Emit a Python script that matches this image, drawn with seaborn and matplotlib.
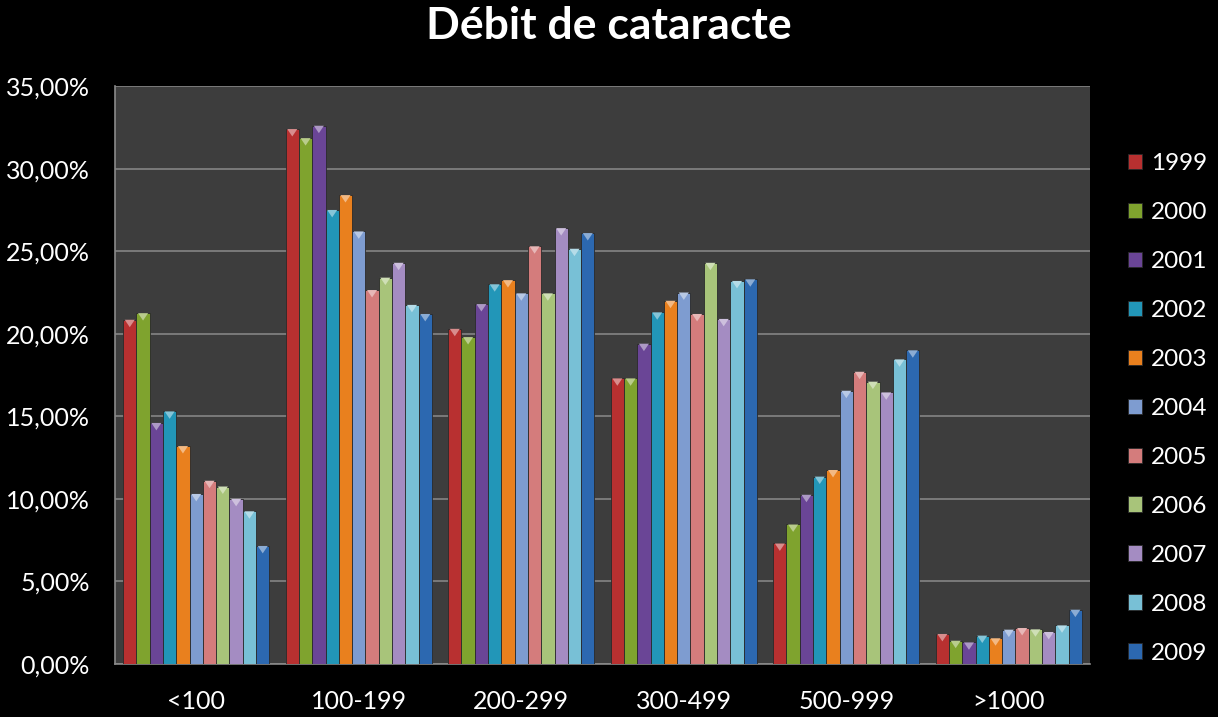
import matplotlib
matplotlib.use("Agg")
import matplotlib.pyplot as plt
import matplotlib.colors as mcolors
from matplotlib.patches import Polygon
import seaborn as sns
import pandas as pd
from matplotlib.ticker import FuncFormatter, MultipleLocator

categories = ["<100", "100-199", "200-299", "300-499", "500-999", ">1000"]
years = ["1999", "2000", "2001", "2002", "2003", "2004", "2005", "2006", "2007", "2008", "2009"]

v1999 = [20.85, 32.4, 20.3, 17.3, 7.3, 1.82]
v2000 = [21.25, 31.85, 19.8, 17.3, 8.45, 1.41]
v2001 = [14.6, 32.6, 21.8, 19.4, 10.25, 1.31]
v2002 = [15.3, 27.5, 23.0, 21.3, 11.35, 1.72]
v2003 = [13.2, 28.4, 23.25, 22.0, 11.75, 1.56]
v2004 = [10.3, 26.2, 22.45, 22.5, 16.55, 2.08]
v2005 = [11.1, 22.65, 25.3, 21.2, 17.7, 2.18]
v2006 = [10.75, 23.4, 22.45, 24.3, 17.1, 2.1]
v2007 = [10.0, 24.3, 26.4, 20.9, 16.45, 1.94]
v2008 = [9.25, 21.75, 25.15, 23.2, 18.45, 2.34]
v2009 = [7.15, 21.2, 26.1, 23.3, 19.0, 3.29]

series = [v1999, v2000, v2001, v2002, v2003, v2004, v2005, v2006, v2007, v2008, v2009]

colors = ["#B83030", "#7FA32E", "#6A4596", "#2296B8", "#E9801E", "#7E9CD0",
          "#D47C7C", "#A8C47A", "#A48CC2", "#78C0D6", "#2C68B0"]

rows = []
for y, vals in zip(years, series):
    for c, v in zip(categories, vals):
        rows.append({"Catégorie": c, "Année": y, "Valeur": v})
df = pd.DataFrame(rows)

sns.set_theme(style="dark")
plt.rcParams["font.family"] = ["Lato", "DejaVu Sans"]

fig = plt.figure(figsize=(12.18, 7.17), dpi=100, facecolor="black")
ax = fig.add_axes([0.0944, 0.0739, 0.8006, 0.806])
ax.set_facecolor("#3d3d3d")

sns.barplot(data=df, x="Catégorie", y="Valeur", hue="Année", order=categories,
            hue_order=years, palette=colors, saturation=1, width=0.9,
            edgecolor="#2a2a2a", linewidth=0.6, ax=ax, zorder=3)

# bevel highlight at top of each bar (derived from the drawn bars)
for p in list(ax.patches):
    x0, w, h = p.get_x(), p.get_width(), p.get_height()
    if h <= 0:
        continue
    fc = mcolors.to_rgb(p.get_facecolor())
    light = tuple(c + (1 - c) * 0.45 for c in fc)
    tri = Polygon([(x0 + 0.12 * w, h), (x0 + 0.88 * w, h), (x0 + 0.5 * w, h - 0.45)],
                  closed=True, facecolor=light, edgecolor="none", zorder=4)
    ax.add_patch(tri)

ax.set_ylim(0, 35)
ax.yaxis.set_major_locator(MultipleLocator(5))
ax.yaxis.set_major_formatter(FuncFormatter(lambda v, p: f"{v:.2f}%".replace(".", ",")))
ax.grid(axis="y", color="#8a8a8a", linewidth=1.1, zorder=0)
ax.grid(axis="x", visible=False)
ax.set_axisbelow(True)
ax.set_xlabel("")
ax.set_ylabel("")
for s in ["left", "bottom"]:
    ax.spines[s].set_visible(True)
    ax.spines[s].set_color("#8a8a8a")
    ax.spines[s].set_linewidth(1.2)
for s in ["top", "right"]:
    ax.spines[s].set_visible(False)

ax.tick_params(axis="y", colors="white", labelsize=18, pad=18, length=0)
ax.tick_params(axis="x", colors="white", labelsize=18, pad=19, length=0)
for lab in ax.get_xticklabels() + ax.get_yticklabels():
    lab.set_color("white")

fig.suptitle("Débit de cataracte", color="white", fontsize=32, fontweight="bold",
             x=0.5, y=0.992, va="top")

leg = ax.get_legend()
handles, labels = ax.get_legend_handles_labels()
if leg is not None:
    leg.remove()
fig.legend(handles, labels, loc="upper left", bbox_to_anchor=(0.918, 0.800),
           frameon=False, fontsize=17.5, labelcolor="white", handlelength=0.6,
           handleheight=0.6, handletextpad=0.35, labelspacing=1.15, borderaxespad=0)

fig.savefig("out.png", dpi=100, facecolor="black")
